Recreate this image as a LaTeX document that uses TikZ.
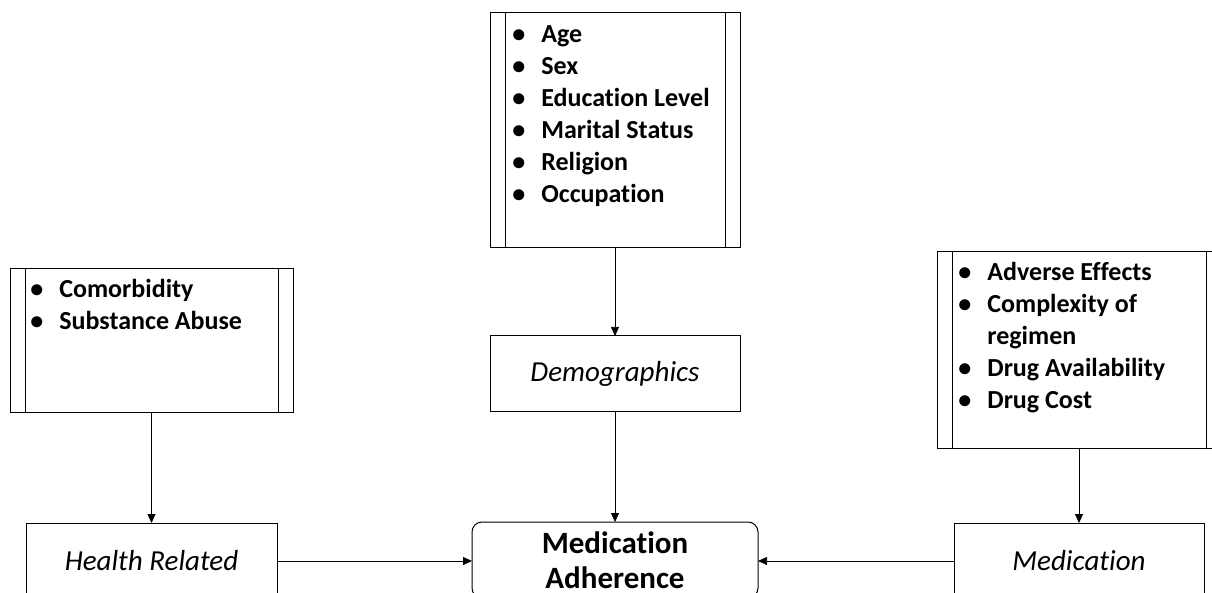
\documentclass[tikz,border=0pt]{standalone}
\usepackage{fontspec}
\setmainfont{Carlito}[Ligatures=NoCommon]
\usetikzlibrary{arrows.meta}

\tikzset{every picture/.style={line width=0.75pt}}
\newcommand{\bul}{\makebox[29pt][l]{\textbullet}}

\begin{document}
\begin{tikzpicture}[x=1pt,y=1pt,yscale=-1,xscale=1,
  frame/.style={draw, line width=1pt, inner sep=0pt, outer sep=0pt},
  tag/.style={frame, minimum width=250, minimum height=76, font=\fontsize{29}{35}\selectfont\itshape},
  items/.style={anchor=north west, inner sep=0pt, align=left, font=\fontsize{26}{32}\selectfont\bfseries},
  link/.style={-{Triangle[length=9pt,width=8pt]}}
]
	\clip (0,0) rectangle (1212,593);
	
	%Shape: Predefined process [demographic factors]
	\node (demolist) [frame, minimum width=250, minimum height=235] at (615,130.5) {};
	\draw [line width=1pt] ([xshift=15]demolist.north west) -- ([xshift=15]demolist.south west) ;
	\draw [line width=1pt] ([xshift=-15]demolist.north east) -- ([xshift=-15]demolist.south east) ;
	%Shape: Predefined process [health factors]
	\node (healthlist) [frame, minimum width=283, minimum height=143] at (151.5,340.5) {};
	\draw [line width=1pt] ([xshift=15]healthlist.north west) -- ([xshift=15]healthlist.south west) ;
	\draw [line width=1pt] ([xshift=-15]healthlist.north east) -- ([xshift=-15]healthlist.south east) ;
	%Shape: Predefined process [medication factors]
	\node (medlist) [frame, minimum width=284, minimum height=196] at (1079,350) {};
	\draw [line width=1pt] ([xshift=15]medlist.north west) -- ([xshift=15]medlist.south west) ;
	\draw [line width=1pt] ([xshift=-15]medlist.north east) -- ([xshift=-15]medlist.south east) ;
	
	%Shape: Rectangle
	\node (demo) [tag, minimum height=75] at (615,373.5) {Demographics};
	%Shape: Rectangle
	\node (health) [tag, minimum width=251] at (151.5,561) {Health Related};
	%Shape: Rectangle
	\node (med) [tag] at (1079,561) {Medication};
	%Shape: Rounded Rectangle
	\node (adherence) [frame, rounded corners=10pt, minimum width=286, minimum height=76, align=center, font=\fontsize{31}{35}\selectfont\bfseries] at (615,560) {Medication\\Adherence};
	
	% Text Node
	\node (demoitems) [items] at (512,25) {\bul Age\\ \bul Sex\\ \bul Education Level\\ \bul Marital Status\\ \bul Religion\\ \bul Occupation};
	% Text Node
	\node (healthitems) [items] at (30,279) {\bul Comorbidity\\ \bul Substance Abuse};
	% Text Node
	\node (meditems) [items] at (958,262) {\bul Adverse Effects\\ \bul Complexity of\\ \hspace*{29pt}regimen\\ \bul Drug Availability\\ \bul Drug Cost};
	
	%Straight Lines
	\draw [link] (demolist.south) -- (demo.north) ;
	\draw [link] (demo.south) -- (adherence.north) ;
	\draw [link] (healthlist.south) -- (health.north) ;
	\draw [link] (medlist.south) -- (med.north) ;
	\draw [link] (health.east) -- (health.east -| adherence.west) ;
	\draw [link] (med.west) -- (med.west -| adherence.east) ;
	
\end{tikzpicture}
\end{document}
